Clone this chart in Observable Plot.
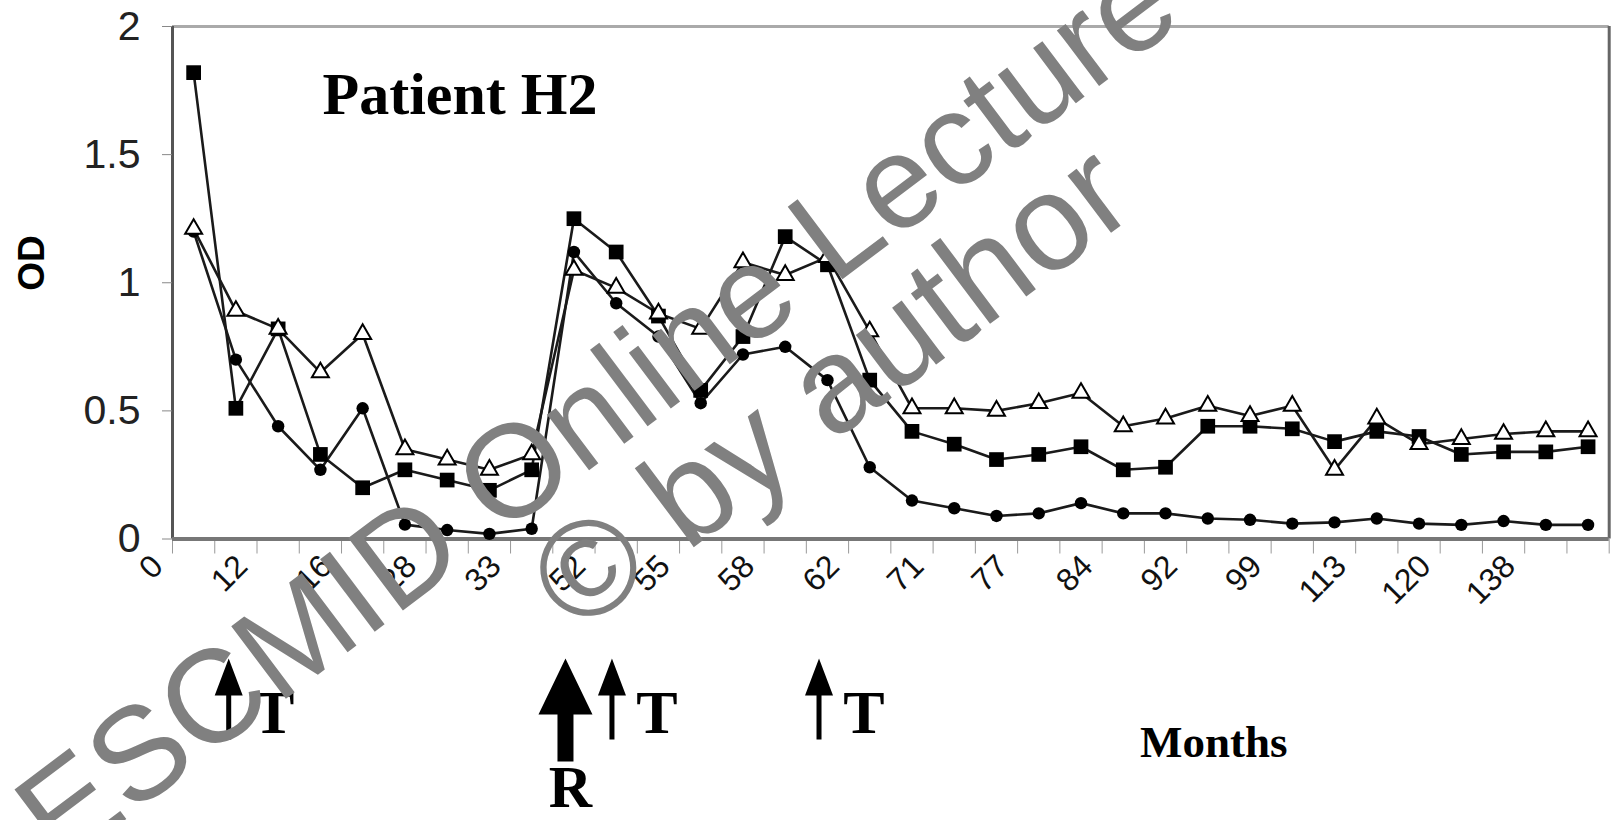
<!DOCTYPE html>
<html><head><meta charset="utf-8">
<script src="https://cdn.jsdelivr.net/npm/d3@7"></script>
<script src="https://cdn.jsdelivr.net/npm/@observablehq/plot@0.6"></script>
<style>
body{margin:0;background:#fff}
#chart{width:1612px;height:820px;position:relative}
</style>
</head><body><div id="chart"></div>
<script>
// Month labels shown on every other sample
const monthLabels = ["0","12","16","28","33","52","55","58","62","71","77","84","92","99","113","120","138"];
// OD per sample (34 samples)
const squareOD = [1.82,0.51,0.82,0.33,0.20,0.27,0.23,0.19,0.27,1.25,1.12,0.87,0.58,0.79,1.18,1.07,0.62,0.42,0.37,0.31,0.33,0.36,0.27,0.28,0.44,0.44,0.43,0.38,0.42,0.40,0.33,0.34,0.34,0.36];
const circleOD = [1.20,0.70,0.44,0.27,0.51,0.056,0.035,0.02,0.04,1.12,0.92,0.79,0.53,0.72,0.75,0.62,0.28,0.15,0.12,0.09,0.10,0.14,0.10,0.10,0.08,0.075,0.06,0.065,0.08,0.06,0.055,0.07,0.055,0.055];
const triangleOD = [1.21,0.89,0.82,0.65,0.80,0.35,0.31,0.27,0.33,1.05,0.98,0.88,0.82,1.08,1.03,1.10,0.81,0.51,0.51,0.50,0.53,0.57,0.44,0.47,0.52,0.48,0.52,0.27,0.47,0.37,0.39,0.41,0.42,0.42];
const yTicks = [0, 0.5, 1, 1.5, 2];
// Treatment / relapse annotations (sample position)
const arrowNotes = [
  {x: 0.83, label: "T", big: false},
  {x: 8.8, label: "R", big: true},
  {x: 9.9, label: "T", big: false},
  {x: 14.8, label: "T", big: false}
];

const n = squareOD.length;
const rows = [];
for (let i = 0; i < n; i++) {
  rows.push({i, v: squareOD[i], s: "square"});
  rows.push({i, v: circleOD[i], s: "circle"});
  rows.push({i, v: triangleOD[i], s: "triangle"});
}
const labelTicks = monthLabels.map((_, k) => 2 * k);
const boundaryTicks = d3.range(n + 1).map(k => k - 0.5);

const thinArrow = {draw(ctx) {
  ctx.moveTo(0, 0); ctx.lineTo(14, 37); ctx.lineTo(2.5, 37); ctx.lineTo(2.5, 81);
  ctx.lineTo(-2.5, 81); ctx.lineTo(-2.5, 37); ctx.lineTo(-14, 37); ctx.closePath();
}};
const bigArrow = {draw(ctx) {
  ctx.moveTo(0, 0); ctx.lineTo(27, 56); ctx.lineTo(8, 56); ctx.lineTo(8, 103);
  ctx.lineTo(-8, 103); ctx.lineTo(-8, 56); ctx.lineTo(-27, 56); ctx.closePath();
}};

const sans = "Liberation Sans, Arial, sans-serif";
const serif = "Liberation Serif, Times New Roman, serif";
const ML = 172, MT = 26;

const plot = Plot.plot({
  width: 1612, height: 820,
  marginLeft: ML, marginRight: 3.3, marginTop: MT, marginBottom: 281.5,
  x: {domain: [-0.5, n - 0.5], axis: null},
  y: {domain: [0, 2], axis: null},
  style: {background: "white", fontFamily: sans, color: "#111"},
  marks: [
    Plot.ruleY([2], {stroke: "#aaa", strokeWidth: 3}),
    Plot.ruleX([n - 0.5], {stroke: "#666", strokeWidth: 3}),
    Plot.ruleX([-0.5], {stroke: "#555", strokeWidth: 3}),
    Plot.axisY({ticks: yTicks, tickSize: 10, tickPadding: 22, tickFormat: d => String(d),
      fontSize: 41, label: null, stroke: "#888", fill: "#222"}),
    Plot.axisX({ticks: boundaryTicks, tickSize: 15, tickFormat: () => "", label: null, stroke: "#999"}),
    Plot.axisX({ticks: labelTicks, tickSize: 0, tickPadding: 22, tickRotate: -45,
      tickFormat: d => monthLabels[d / 2], fontSize: 32, dx: -36, label: null,
      textAnchor: "end", fill: "#111"}),
    Plot.line(rows, {x: "i", y: "v", z: "s", stroke: "#1a1a1a", strokeWidth: 2.6}),
    Plot.ruleY([0], {stroke: "#777", strokeWidth: 4}),
    Plot.dot(rows.filter(d => d.s === "square"), {x: "i", y: "v", symbol: "square", r: 8.3, fill: "#000", stroke: "none"}),
    Plot.dot(rows.filter(d => d.s === "circle"), {x: "i", y: "v", symbol: "circle", r: 6.2, fill: "#000", stroke: "none"}),
    Plot.dot(rows.filter(d => d.s === "triangle"), {x: "i", y: "v", symbol: "triangle", r: 6.3, fill: "white", stroke: "#000", strokeWidth: 2}),
    Plot.text(["Patient H2"], {frameAnchor: "top-left", dx: 150, dy: 87, textAnchor: "start", lineAnchor: "bottom",
      fontFamily: serif, fontWeight: "bold", fontSize: 60, fill: "#000"}),
    Plot.text(["OD"], {frameAnchor: "left", dx: -140, dy: 8, rotate: -90, fontFamily: sans, fontWeight: "bold", fontSize: 37, fill: "#000"}),
    Plot.dot(arrowNotes.filter(d => !d.big), {x: "x", frameAnchor: "bottom", dy: 119.5, symbol: thinArrow, fill: "#000", stroke: "none"}),
    Plot.dot(arrowNotes.filter(d => d.big), {x: "x", frameAnchor: "bottom", dy: 119.5, symbol: bigArrow, fill: "#000", stroke: "none"}),
    Plot.text(arrowNotes.filter(d => !d.big), {x: "x", text: "label", frameAnchor: "bottom", dx: 45, dy: 193.5, lineAnchor: "bottom",
      fontFamily: serif, fontWeight: "bold", fontSize: 62, fill: "#000"}),
    Plot.text(arrowNotes.filter(d => d.big), {x: "x", text: "label", frameAnchor: "bottom", dx: 5, dy: 267.5, lineAnchor: "bottom",
      fontFamily: serif, fontWeight: "bold", fontSize: 60, fill: "#000"}),
    Plot.text(["Months"], {frameAnchor: "bottom", dx: 323, dy: 217.5, lineAnchor: "bottom",
      fontFamily: serif, fontWeight: "bold", fontSize: 45, fill: "#000"}),
    // watermark
    Plot.text(["ESCMID Online Lecture Library"], {frameAnchor: "top-left", dx: 60 - ML, dy: 868 - MT, rotate: -37,
      textAnchor: "start", lineAnchor: "bottom", fontFamily: sans, fontSize: 132, fill: "#808080"}),
    Plot.text(["© by author"], {frameAnchor: "top-left", dx: 576 - ML, dy: 635 - MT, rotate: -37,
      textAnchor: "start", lineAnchor: "bottom", fontFamily: sans, fontSize: 136, fill: "#808080"})
  ]
});
document.getElementById("chart").appendChild(plot);
</script>
</body></html>
